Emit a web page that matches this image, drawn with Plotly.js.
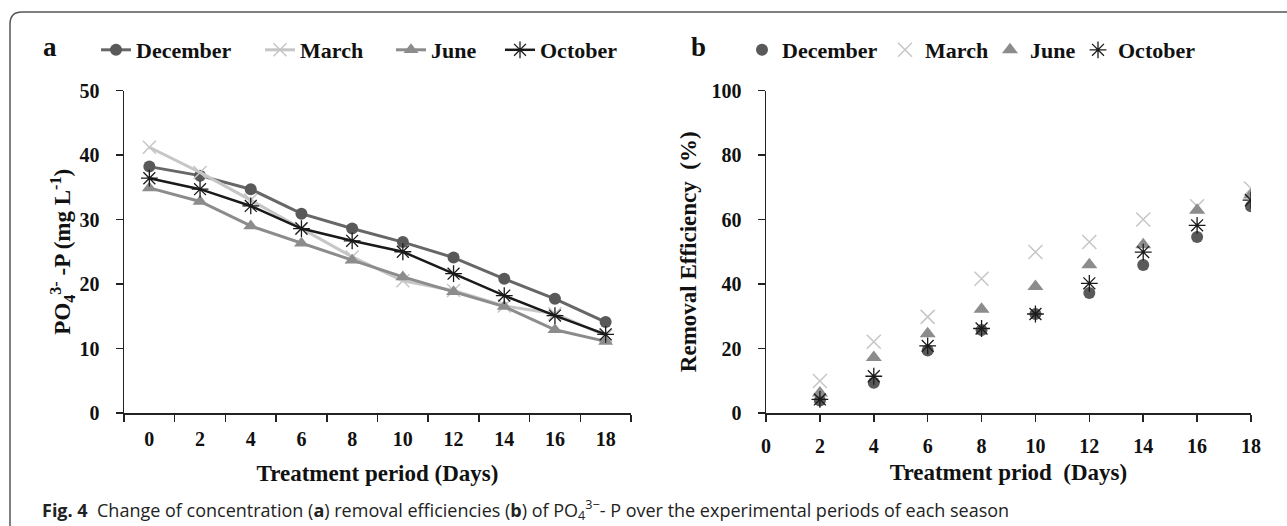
<!DOCTYPE html>
<html><head><meta charset="utf-8">
<script src="https://cdn.plot.ly/plotly-3.0.1.min.js"></script>
<style>html,body{margin:0;padding:0;background:#fff}#chart{width:1287px;height:526px}</style>
</head><body><div id="chart"></div>
<script>
// ---- data ----
const days = [0, 2, 4, 6, 8, 10, 12, 14, 16, 18];
const concDecember = [38.2, 36.8, 34.7, 30.9, 28.6, 26.5, 24.1, 20.8, 17.7, 14.1];
const concMarch    = [41.2, 37.3, 33.0, 28.6, 24.2, 20.5, 19.0, 16.6, 15.4, 12.0];
const concJune     = [34.9, 32.8, 29.0, 26.3, 23.7, 21.1, 18.8, 16.5, 12.9, 11.1];
const concOctober  = [36.4, 34.7, 32.1, 28.6, 26.7, 25.0, 21.6, 18.2, 15.1, 12.2];

const removalDays     = [2, 4, 6, 8, 10, 12, 14, 16, 18];
const removalDecember = [3.9, 9.4, 19.4, 25.7, 30.7, 37.2, 45.9, 54.6, 64.1];
const removalMarch    = [9.9, 22.1, 29.8, 41.6, 49.9, 53.0, 60.0, 64.1, 69.6];
const removalJune     = [6.2, 17.2, 24.6, 32.2, 39.2, 46.0, 52.2, 62.9, 67.6];
const removalOctober  = [4.2, 11.4, 20.8, 26.2, 30.7, 40.2, 49.9, 58.2, 66.0];

const seasons = ['December', 'March', 'June', 'October'];

// ---- helpers ----
const W = 1287, H = 526;
const px = x => x / W, py = y => 1 - y / H;
const serif = 'Liberation Serif, Times New Roman, serif';
const sans = 'Open Sans, Noto Sans, sans-serif';
const dayLabels = days.map(String);

const colDec = '#595959', colDecLine = '#676767';
const colMar = '#c6c6c6';
const colJun = '#8c8c8c';
const colOct = '#1a1a1a';

const traces = [
  {x: dayLabels, y: concDecember, name: seasons[0], mode: 'lines+markers', xaxis: 'x', yaxis: 'y', legend: 'legend',
   line: {color: colDecLine, width: 3}, marker: {symbol: 'circle', size: 12, color: colDec}},
  {x: dayLabels, y: concMarch, name: seasons[1], mode: 'lines+markers', xaxis: 'x', yaxis: 'y', legend: 'legend2',
   line: {color: colMar, width: 3}, marker: {symbol: 'x-thin-open', size: 13, color: colMar, line: {color: colMar, width: 1.5}}},
  {x: dayLabels, y: concJune, name: seasons[2], mode: 'lines+markers', xaxis: 'x', yaxis: 'y', legend: 'legend3',
   line: {color: colJun, width: 3}, marker: {symbol: 'triangle-up', size: 13, color: colJun}},
  {x: dayLabels, y: concOctober, name: seasons[3], mode: 'lines+markers', xaxis: 'x', yaxis: 'y', legend: 'legend4',
   line: {color: colOct, width: 2.5}, marker: {symbol: 'asterisk-open', size: 14, color: colOct, line: {color: colOct, width: 1.3}}},

  {x: removalDays, y: removalDecember, name: seasons[0], mode: 'markers', xaxis: 'x2', yaxis: 'y2', legend: 'legend5',
   marker: {symbol: 'circle', size: 12, color: colDec}},
  {x: removalDays, y: removalMarch, name: seasons[1], mode: 'markers', xaxis: 'x2', yaxis: 'y2', legend: 'legend6',
   marker: {symbol: 'x-thin-open', size: 14, color: colMar, line: {color: colMar, width: 1.5}}},
  {x: removalDays, y: removalJune, name: seasons[2], mode: 'markers', xaxis: 'x2', yaxis: 'y2', legend: 'legend7',
   marker: {symbol: 'triangle-up', size: 14, color: colJun}},
  {x: removalDays, y: removalOctober, name: seasons[3], mode: 'markers', xaxis: 'x2', yaxis: 'y2', legend: 'legend8',
   marker: {symbol: 'asterisk-open', size: 14, color: colOct, line: {color: colOct, width: 1.3}}}
];

const axisCommon = {
  showline: true, linecolor: '#222', linewidth: 1.5,
  ticks: 'outside', ticklen: 7, tickwidth: 1.5, tickcolor: '#222',
  tickfont: {family: serif, size: 20, color: '#111', weight: 'bold'},
  showgrid: false, zeroline: false, automargin: false, fixedrange: true
};
const titleFont = {family: serif, size: 23, color: '#111', weight: 'bold'};
const yDomain = [py(413), py(90.5)];

function legendAt(xPix) {
  return {x: px(xPix), y: py(50), xanchor: 'left', yanchor: 'middle', orientation: 'h',
          bgcolor: 'rgba(0,0,0,0)', borderwidth: 0,
          font: {family: serif, size: 22, color: '#111', weight: 'bold'}};
}

const framePath = `M ${px(10)} ${py(526)} L ${px(10)} ${py(24)} Q ${px(10)} ${py(12)} ${px(22)} ${py(12)} L ${px(1287)} ${py(12)}`;

const layout = {
  width: W, height: H,
  margin: {l: 0, r: 0, t: 0, b: 0},
  paper_bgcolor: '#fff', plot_bgcolor: '#fff',
  showlegend: true,
  xaxis: Object.assign({}, axisCommon, {
    domain: [px(124), px(631)], anchor: 'y', type: 'category', tickson: 'boundaries',
    range: [-0.5, 9.5], ticklabelstandoff: 7,
    title: {text: 'Treatment period (Days)', font: titleFont, standoff: 16}
  }),
  yaxis: Object.assign({}, axisCommon, {
    domain: yDomain, anchor: 'x', range: [0, 50], dtick: 10, ticklabelstandoff: 12,
    title: {text: 'PO<sub>4</sub><sup>3-</sup> -P (mg L<sup>-1</sup>)', font: titleFont, standoff: 2}
  }),
  xaxis2: Object.assign({}, axisCommon, {
    domain: [px(766), px(1251)], anchor: 'y2', range: [0, 18], dtick: 2, ticklabelstandoff: 7,
    title: {text: 'Treatment priod  (Days)', font: titleFont, standoff: 8}
  }),
  yaxis2: Object.assign({}, axisCommon, {
    domain: yDomain, anchor: 'x2', range: [0, 100], dtick: 20, ticklabelstandoff: 12,
    title: {text: 'Removal Efficiency  (%)', font: titleFont, standoff: 8}
  }),
  legend: legendAt(96), legend2: legendAt(260), legend3: legendAt(391), legend4: legendAt(500),
  legend5: legendAt(742), legend6: legendAt(885), legend7: legendAt(990), legend8: legendAt(1078),
  annotations: [
    {xref: 'paper', yref: 'paper', x: px(50), y: py(47), xanchor: 'center', yanchor: 'middle', showarrow: false,
     text: 'a', font: {family: serif, size: 27, color: '#111', weight: 'bold'}},
    {xref: 'paper', yref: 'paper', x: px(698), y: py(47), xanchor: 'center', yanchor: 'middle', showarrow: false,
     text: 'b', font: {family: serif, size: 27, color: '#111', weight: 'bold'}},
    {xref: 'paper', yref: 'paper', x: px(40), y: py(510), xanchor: 'left', yanchor: 'middle', showarrow: false,
     text: '<b>Fig. 4</b>\u00a0\u00a0Change of concentration (<b>a</b>) removal efficiencies (<b>b</b>) of PO<sub>4</sub><sup>3\u2212</sup>- P over the experimental periods of each season',
     font: {family: sans, size: 18, color: '#222'}}
  ],
  shapes: [
    {type: 'path', xref: 'paper', yref: 'paper', path: framePath, line: {color: '#555', width: 1.5}}
  ]
};

Plotly.newPlot('chart', traces, layout, {displayModeBar: false, staticPlot: true});
</script></body></html>
